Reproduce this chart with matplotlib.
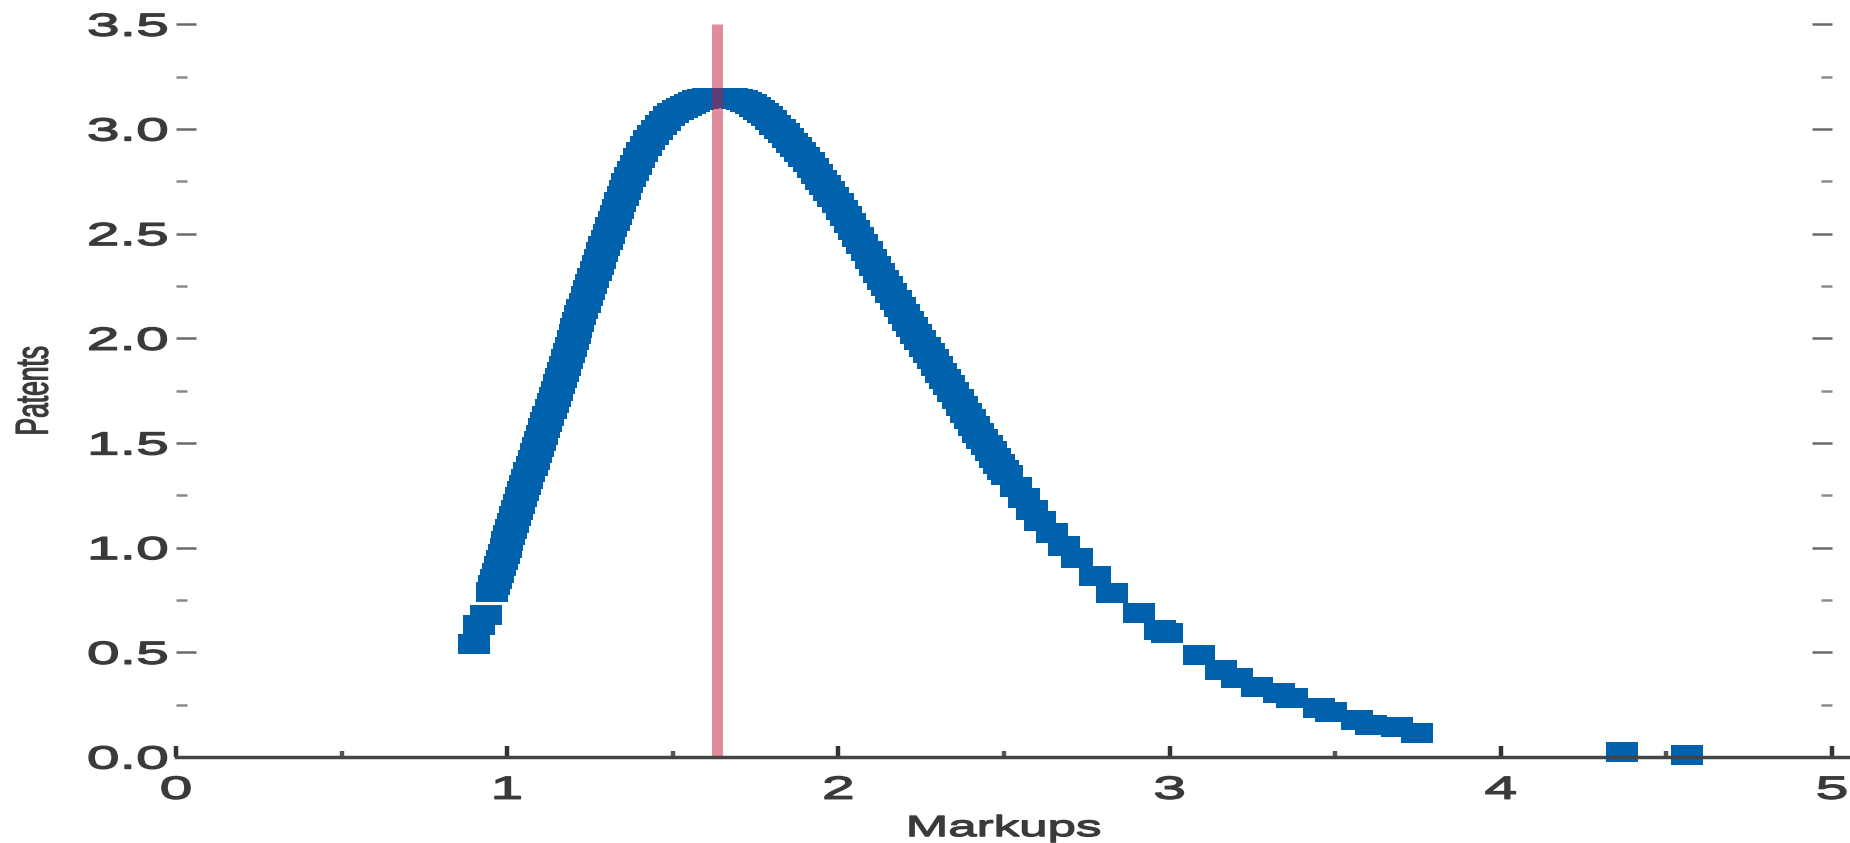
import matplotlib
matplotlib.use("Agg")
import matplotlib.pyplot as plt
from matplotlib.patheffects import AbstractPathEffect
from matplotlib.transforms import Affine2D
from matplotlib.ticker import MultipleLocator

plt.rcParams["font.family"] = ["Liberation Sans", "DejaVu Sans"]

# Patent-level markups and their estimated density, rising side of the curve
markup_rise = [0.900, 0.916, 0.935,
               0.953, 0.959, 0.965, 0.971, 0.977, 0.983, 0.989, 0.995, 1.000, 1.006,
               1.012, 1.018, 1.024, 1.030, 1.036, 1.042, 1.048, 1.054, 1.061, 1.067,
               1.074, 1.080, 1.086, 1.093, 1.099, 1.105, 1.112, 1.118, 1.124, 1.131,
               1.137, 1.143, 1.149, 1.156, 1.162, 1.168, 1.174, 1.180, 1.186, 1.192,
               1.198, 1.204, 1.209, 1.215, 1.221, 1.227, 1.234, 1.240, 1.247, 1.253,
               1.260, 1.267, 1.273, 1.280, 1.287, 1.293, 1.300, 1.307, 1.314, 1.321,
               1.328, 1.335, 1.342, 1.349, 1.356, 1.363, 1.371, 1.380, 1.389, 1.398,
               1.408, 1.418, 1.429, 1.440, 1.452, 1.465, 1.477, 1.490, 1.502, 1.515,
               1.527, 1.540, 1.552, 1.565, 1.577, 1.590, 1.605, 1.620, 1.635, 1.650,
               1.665, 1.680, 1.695, 1.710]
density_rise = [0.541, 0.632, 0.677,
                0.790, 0.820, 0.850, 0.880, 0.910, 0.940, 0.970, 1.000, 1.030, 1.060,
                1.090, 1.120, 1.150, 1.180, 1.210, 1.240, 1.270, 1.300, 1.330, 1.360,
                1.390, 1.420, 1.450, 1.480, 1.510, 1.540, 1.570, 1.600, 1.630, 1.660,
                1.690, 1.720, 1.750, 1.780, 1.810, 1.840, 1.870, 1.900, 1.930, 1.960,
                1.990, 2.020, 2.050, 2.080, 2.110, 2.140, 2.170, 2.200, 2.230, 2.260,
                2.290, 2.320, 2.350, 2.380, 2.410, 2.440, 2.470, 2.500, 2.530, 2.560,
                2.590, 2.620, 2.650, 2.680, 2.710, 2.740, 2.770, 2.800, 2.830, 2.860,
                2.890, 2.920, 2.945, 2.970, 2.995, 3.020, 3.040, 3.060, 3.075, 3.090,
                3.100, 3.110, 3.120, 3.130, 3.138, 3.145, 3.150, 3.150, 3.150, 3.150,
                3.150, 3.150, 3.145, 3.140]

# Falling side and right tail
markup_fall = [1.7225, 1.735, 1.7475, 1.760, 1.7725, 1.785, 1.7975, 1.810, 1.8225,
               1.835, 1.8475, 1.860, 1.8725, 1.885, 1.8975, 1.910, 1.9225, 1.935,
               1.9475, 1.960, 1.9725, 1.985, 1.9975, 2.010, 2.0225, 2.035, 2.0475,
               2.060, 2.0725, 2.085, 2.0975, 2.110, 2.1225, 2.135, 2.1475, 2.160,
               2.1725, 2.185, 2.1975, 2.210, 2.2225, 2.235, 2.2475, 2.260, 2.2725,
               2.285, 2.2975, 2.310, 2.3225, 2.335, 2.3475, 2.360, 2.3725, 2.385,
               2.3975, 2.410, 2.4225, 2.435, 2.4475, 2.460, 2.4725, 2.485, 2.4975,
               2.510, 2.535, 2.560, 2.585, 2.610, 2.646, 2.680, 2.721, 2.776,
               2.827, 2.907, 2.972, 2.992, 3.089, 3.154, 3.204, 3.264, 3.330, 3.370,
               3.451, 3.486, 3.567, 3.607, 3.688, 3.748, 4.366, 4.562]
density_fall = [3.131, 3.120, 3.106, 3.090, 3.076, 3.060, 3.041, 3.020, 3.000,
                2.980, 2.958, 2.935, 2.913, 2.890, 2.866, 2.840, 2.813, 2.785,
                2.758, 2.730, 2.703, 2.675, 2.646, 2.615, 2.583, 2.550, 2.518,
                2.485, 2.450, 2.415, 2.380, 2.345, 2.313, 2.280, 2.248, 2.215,
                2.183, 2.150, 2.118, 2.085, 2.053, 2.020, 1.990, 1.960, 1.930,
                1.900, 1.868, 1.835, 1.805, 1.775, 1.743, 1.710, 1.678, 1.645,
                1.613, 1.580, 1.550, 1.520, 1.490, 1.460, 1.430, 1.400, 1.372,
                1.345, 1.290, 1.235, 1.180, 1.125, 1.072, 1.010, 0.949, 0.865,
                0.785, 0.690, 0.606, 0.592, 0.486, 0.416, 0.376, 0.336, 0.304, 0.280,
                0.233, 0.217, 0.177, 0.153, 0.145, 0.113, 0.025, 0.008]

mean_markup = 1.633

x_ticks = [0, 1, 2, 3, 4, 5]
x_tick_labels = ["0", "1", "2", "3", "4", "5"]
y_ticks = [0.0, 0.5, 1.0, 1.5, 2.0, 2.5, 3.0, 3.5]
y_tick_labels = ["0.0", "0.5", "1.0", "1.5", "2.0", "2.5", "3.0", "3.5"]


class Widen(AbstractPathEffect):
    """Stretch drawn text horizontally about its centre or an edge, with a light outline."""

    def __init__(self, sx, anchor="center", stroke=0.0):
        super().__init__()
        self.sx = sx
        self.anchor = anchor
        self.stroke = stroke

    def draw_path(self, renderer, gc, tpath, affine, rgbFace=None):
        ext = affine.transform_path(tpath).get_extents()
        if self.anchor == "right":
            cx = ext.x1
        elif self.anchor == "left":
            cx = ext.x0
        else:
            cx = 0.5 * (ext.x0 + ext.x1)
        stretch = Affine2D().translate(-cx, 0).scale(self.sx, 1).translate(cx, 0)
        gc0 = renderer.new_gc()
        gc0.copy_properties(gc)
        if self.stroke > 0 and rgbFace is not None:
            gc0.set_linewidth(self.stroke)
            gc0.set_foreground(rgbFace)
            gc0.set_joinstyle("round")
        renderer.draw_path(gc0, tpath, affine + stretch, rgbFace)
        gc0.restore()


W, H = 1850, 843
fig = plt.figure(figsize=(W / 100, H / 100), dpi=100)
left, right, top, bottom = 176, 1832, 24.3, 757
ax = fig.add_axes([left / W, 1 - bottom / H, (right - left) / W, (bottom - top) / H])

rect = [(-1, -0.62), (1, -0.62), (1, 0.62), (-1, 0.62), (-1, -0.62)]
blue = "#0061ad"
ax.plot(markup_rise, density_rise, linestyle="none", marker=rect, ms=22.5,
        mew=0, color=blue, clip_on=False, zorder=2)
ax.plot(markup_fall, density_fall, linestyle="none", marker=rect, ms=22.5,
        mew=0, color=blue, clip_on=False, zorder=2)

ax.vlines(mean_markup, 0, 3.5, colors="#c41a3c", alpha=0.5, linewidth=7.9, zorder=3)

ax.set_xlim(0, 5)
ax.set_ylim(0, 3.5)

for s in ("top", "left", "right"):
    ax.spines[s].set_visible(False)
ax.spines["bottom"].set_color("#444444")
ax.spines["bottom"].set_linewidth(2.5)
ax.spines["bottom"].set_bounds(0, 5.06)
ax.spines["bottom"].set_zorder(4)

ax.set_xticks(x_ticks, x_tick_labels)
ax.set_yticks(y_ticks, y_tick_labels)
ax.xaxis.set_minor_locator(MultipleLocator(0.5))
ax.yaxis.set_minor_locator(MultipleLocator(0.25))

ax.tick_params(axis="y", which="both", direction="in", left=True, right=True,
               labelleft=True, labelright=False)
ax.tick_params(axis="y", which="major", length=14.4, width=1.8, color="#6a6a6a",
               pad=6, labelsize=23, labelcolor="#3a3a3a")
ax.tick_params(axis="y", which="minor", length=8, width=1.8, color="#8a8a8a")
ax.tick_params(axis="x", which="both", direction="in", top=False, bottom=True)
ax.tick_params(axis="x", which="major", length=8, width=3.2, color="#333333",
               pad=13.5, labelsize=23, labelcolor="#3a3a3a")
ax.tick_params(axis="x", which="minor", length=4.3, width=3.2, color="#555555")

for lab in ax.get_yticklabels():
    lab.set_path_effects([Widen(1.85, "right", stroke=1.0)])
for lab in ax.get_xticklabels():
    lab.set_path_effects([Widen(1.85, "center", stroke=1.0)])

ax.set_xlabel("Markups", fontsize=21, color="#3a3a3a", labelpad=6,
              path_effects=[Widen(1.75, "center", stroke=1.0)])
ax.set_ylabel("Patents", fontsize=19, color="#3a3a3a",
              path_effects=[Widen(1.75, "center", stroke=0.8)])
ax.yaxis.set_label_coords(-0.0785, 0.5)

fig.savefig("out.png", dpi=100)
